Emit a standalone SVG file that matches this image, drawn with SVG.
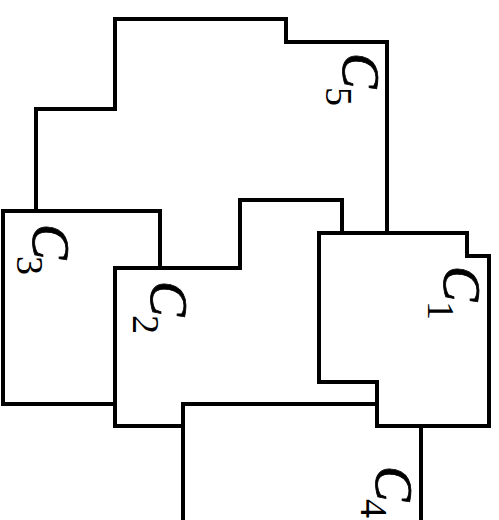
<svg xmlns="http://www.w3.org/2000/svg" width="499" height="520" viewBox="0 0 499 520">
<style>
.b{fill:none;stroke:#000;stroke-width:4;stroke-linejoin:miter;stroke-linecap:square}
.c{font-family:"Liberation Serif","Times New Roman",serif;font-style:italic;font-size:53px;fill:#000;stroke:#000;stroke-width:0.8}
.s{font-family:"Liberation Serif","Times New Roman",serif;font-style:normal;font-size:38px;fill:#000}
</style>
<rect width="499" height="520" fill="#fff"/>
<g id="C5">
<path class="b" d="M36,211 V109 H115 V19 H286 V42 H387 V233"/>
<text transform="translate(343,53) rotate(90)"><tspan class="c">C</tspan><tspan class="s" x="34" y="17">5</tspan></text>
</g>
<g id="C3">
<path class="b" d="M160,268 V211 H3 V404 H115"/>
<text transform="translate(33,224) rotate(90)"><tspan class="c">C</tspan><tspan class="s" x="32" y="16">3</tspan></text>
</g>
<g id="C2">
<path class="b" d="M342,233 V200 H240 V268 H115 V426 H183"/>
<text transform="translate(151,281) rotate(90)"><tspan class="c">C</tspan><tspan class="s" x="34" y="18">2</tspan></text>
</g>
<g id="C1">
<path class="b" d="M319,233 H467 V256 H489 V426 H377 V382 H319 Z"/>
<text transform="translate(444,266) rotate(90)"><tspan class="c">C</tspan><tspan class="s" x="35" y="16">1</tspan></text>
</g>
<g id="C4">
<path class="b" d="M183,522 V404 H377 M421,426 V522"/>
<text transform="translate(376,466) rotate(90)"><tspan class="c">C</tspan><tspan class="s" x="33" y="15">4</tspan></text>
</g>
<g id="connectors"></g>
</svg>
